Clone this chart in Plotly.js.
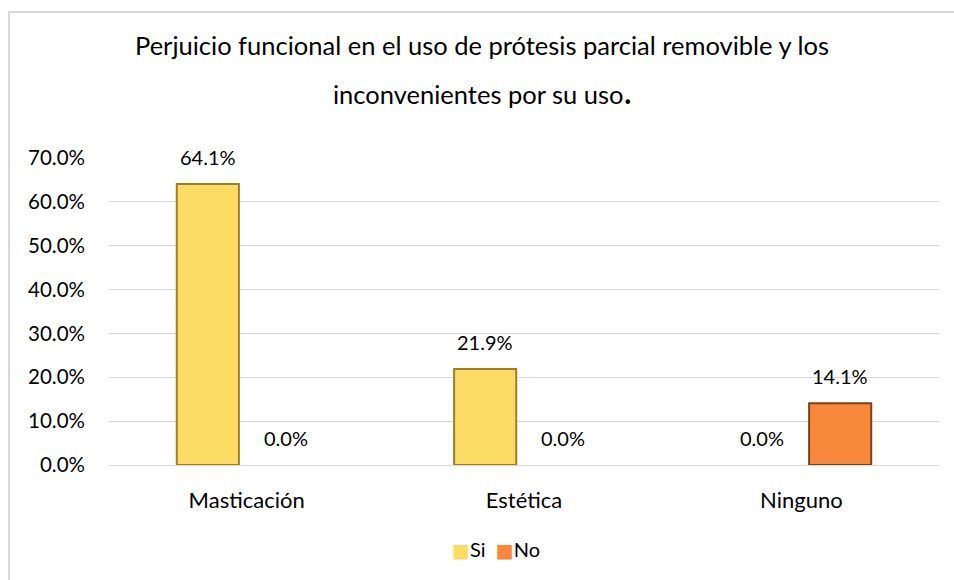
<!DOCTYPE html>
<html>
<head>
<meta charset="utf-8">
<script src="https://cdn.plot.ly/plotly-3.0.1.min.js"></script>
<style>
  html, body { margin: 0; padding: 0; background: #fff; }
  #wrap { position: relative; width: 954px; height: 580px; }
  #chart { position: absolute; left: 0; top: 0; width: 954px; height: 580px; }
  #frame { position: absolute; left: 8px; top: 11px; right: -2px; bottom: -2px;
           border-left: 2px solid #D9D9D9; border-top: 2px solid #D9D9D9; pointer-events: none; }
</style>
</head>
<body>
<div id="wrap">
  <div id="chart"></div>
  <div id="frame"></div>
</div>
<script>
const categories = ["Masticación", "Estética", "Ninguno"];
const seriesNames = ["Si", "No"];
const siValues = [0.641, 0.219, 0.0];
const noValues = [0.0, 0.0, 0.141];
const yTickVals = [0, 0.1, 0.2, 0.3, 0.4, 0.5, 0.6, 0.7];
const yTickText = ["0.0%", "10.0%", "20.0%", "30.0%", "40.0%", "50.0%", "60.0%", "70.0%"];
const titleLines = ["Perjuicio funcional en el uso de prótesis parcial removible y los",
                    "inconvenientes por su uso<span style='font-size:36px'>.</span>"];

const FONT = "Lato, 'Open Sans', sans-serif";
const seriesValues = [siValues, noValues];
const fills = ["#FDDC66", "#F7873B"];
const edges = ["#9C7F26", "#7E4216"];

const traces = seriesValues.map((vals, i) => ({
  type: "bar",
  name: seriesNames[i],
  x: categories,
  y: vals,
  marker: { color: fills[i], line: { color: edges[i], width: vals.map(v => v > 0 ? 2 : 0) } },
  hoverinfo: "none",
  showlegend: false
}));

const offsets = [-39, 39];
const annotations = [];
seriesValues.forEach((vals, i) => {
  vals.forEach((v, j) => {
    annotations.push({
      x: categories[j], y: v, xref: "x", yref: "y",
      xshift: offsets[i], yshift: 13, yanchor: "bottom",
      text: (v * 100).toFixed(1) + "%", showarrow: false,
      font: { family: FONT, size: 20, color: "#000" }
    });
  });
});
const plotL = 108, plotW = 954 - 108 - 14;
const plotB = 115, plotH = 580 - 158 - 115;
const pxX = x => (x - plotL) / plotW;
const pxY = y => (580 - y - plotB) / plotH;
titleLines.forEach((t, k) => {
  const yPix = k === 0 ? 45 : 90;
  annotations.push({
    x: pxX(482), xref: "paper", y: pxY(yPix), yref: "paper", yanchor: "middle",
    text: t, showarrow: false, font: { family: FONT, size: 25.5, color: "#000" }
  });
});
// legend (Excel-style compact): coloured square + series name
const legendText = seriesNames.map((n, i) =>
  "<span style='color:" + fills[i] + ";font-family:DejaVu Sans;font-size:19px'>■</span>" + n).join("&nbsp;&nbsp;");
annotations.push({
  x: pxX(496), xref: "paper", y: pxY(549), yref: "paper", yanchor: "middle",
  text: legendText, showarrow: false, font: { family: FONT, size: 20, color: "#000" }
});

const layout = {
  width: 954, height: 580,
  margin: { l: 108, r: 14, t: 158, b: 115 },
  paper_bgcolor: "#fff", plot_bgcolor: "#fff",
  barmode: "group", bargap: 0.44, bargroupgap: 0.2,
  showlegend: false,
  xaxis: { type: "category", showgrid: false, showline: false, ticks: "",
           tickfont: { family: FONT, size: 22, color: "#000" }, ticklabelstandoff: 20 },
  yaxis: { range: [0, 0.7], tickvals: yTickVals, ticktext: yTickText,
           showgrid: true, gridcolor: "#D9D9D9", gridwidth: 1,
           zeroline: true, zerolinecolor: "#D9D9D9", zerolinewidth: 1, showline: false,
           tickfont: { family: FONT, size: 20.5, color: "#000" }, ticklabelstandoff: 22 },
  annotations: annotations,
  font: { family: FONT }
};

Plotly.newPlot("chart", traces, layout, { displayModeBar: false, staticPlot: true });
</script>
</body>
</html>
